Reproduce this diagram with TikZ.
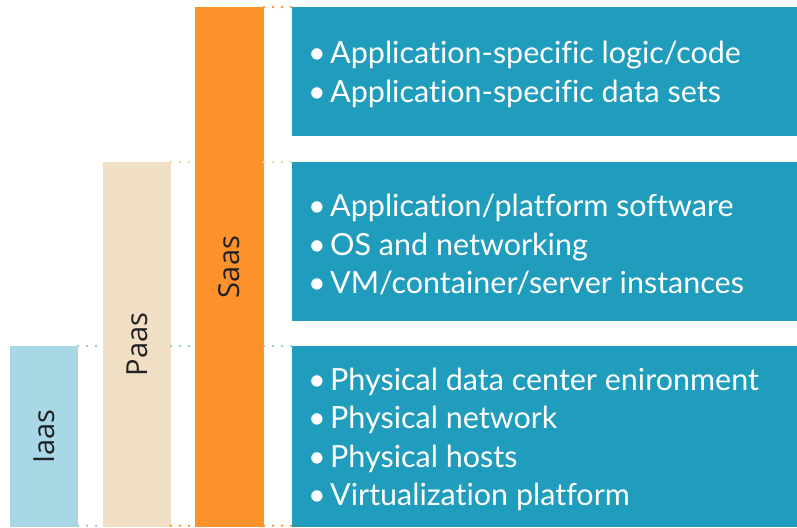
\documentclass[tikz,border=0pt]{standalone}
\usepackage{fontspec}
\setmainfont[Ligatures=NoCommon]{Lato}
\newfontfamily\barfont{Open Sans}
\definecolor{iaasblue}{HTML}{A8D8E5}
\definecolor{paasbeige}{HTML}{F0DFC4}
\definecolor{saasorange}{HTML}{FD922D}
\definecolor{stackteal}{HTML}{209DBD}
\definecolor{labelgray}{HTML}{222222}
\newcommand{\bitem}{\makebox[22pt][l]{\textbullet}}
\tikzset{
    layer/.style={inner sep=0, outer sep=0, anchor=south west},
    barlabel/.style={rotate=90, text=labelgray,
        font=\barfont\fontsize{29}{34}\selectfont},
    stacktext/.style={inner sep=0, anchor=west, align=left, text=white,
        yshift=-3, font=\fontsize{30.5}{38.5}\selectfont},
    linkdots/.style={line width=2.6pt, dash pattern=on 0pt off 9pt,
        line cap=round},
}

\begin{document}
\begin{tikzpicture}[x=1pt, y=1pt]
    \useasboundingbox (0, 0) rectangle (797, 527);
    % service bars, one per model
    \node[layer, fill=iaasblue, minimum width=68, minimum height=181]
        (iaas) at (10, 0) {};
    \node[layer, fill=paasbeige, minimum width=68, minimum height=365]
        (paas) at (103, 0) {};
    \node[layer, fill=saasorange, minimum width=69, minimum height=520]
        (saas) at (195, 0) {};
    % stack layers
    \node[layer, fill=stackteal, minimum width=505, minimum height=129]
        (applayer) at (292, 391) {};
    \node[layer, fill=stackteal, minimum width=505, minimum height=159]
        (oslayer) at (292, 206) {};
    \node[layer, fill=stackteal, minimum width=505, minimum height=181]
        (hwlayer) at (292, 0) {};
    % dotted links between the bars and the layers
    \draw[linkdots, iaasblue!85!teal] (iaas.north east) -- (paas.west |- iaas.north);
    \draw[linkdots, iaasblue!85!teal] (paas.east |- iaas.north) -- (saas.west |- iaas.north);
    \draw[linkdots, iaasblue!85!teal] (saas.east |- iaas.north) -- (hwlayer.north west);
    \draw[linkdots, paasbeige!90!brown] (paas.north east) -- (saas.west |- paas.north);
    \draw[linkdots, paasbeige!90!brown] (saas.east |- paas.north) -- (oslayer.north west);
    \draw[linkdots, saasorange] (saas.north east) -- (applayer.north west);
    \coordinate (base) at (0, 1.3);
    \draw[linkdots, iaasblue!85!teal] (iaas.east |- base) -- (paas.west |- base);
    \draw[linkdots, saasorange] (paas.east |- base) -- (saas.west |- base);
    \draw[linkdots, saasorange] (saas.east |- base) -- (hwlayer.west |- base);
    % labels
    \node[barlabel] (iaaslbl) at (iaas.center) {Iaas};
    \node[barlabel] (paaslbl) at (paas.center) {Paas};
    \node[barlabel] (saaslbl) at (saas.center) {Saas};
    \node[stacktext] (apptext) at ([xshift=16]applayer.west)
        {\bitem Application-specific logic/code\\
         \bitem Application-specific data sets};
    \node[stacktext] (ostext) at ([xshift=16]oslayer.west)
        {\bitem Application/platform software\\
         \bitem OS and networking\\
         \bitem VM/container/server instances};
    \node[stacktext] (hwtext) at ([xshift=16]hwlayer.west)
        {\bitem Physical data center enironment\\
         \bitem Physical network\\
         \bitem Physical hosts\\
         \bitem Virtualization platform};
\end{tikzpicture}
\end{document}
